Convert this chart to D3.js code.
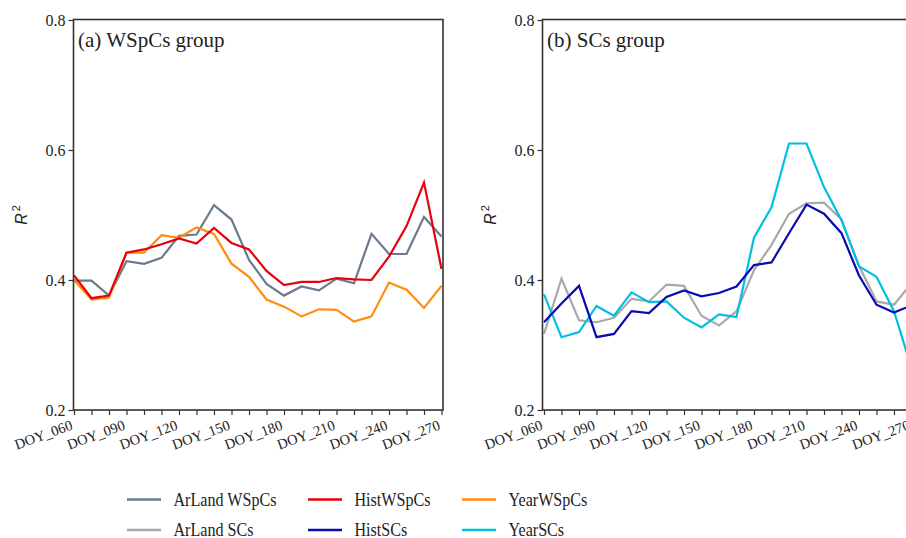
<!DOCTYPE html>
<html>
<head>
<meta charset="utf-8">
<script src="https://cdn.jsdelivr.net/npm/d3@7"></script>
<style>
  body { margin: 0; background: #fff; }
  svg { display: block; }
</style>
</head>
<body>
<script>
// R2 by DOY, two groups of predictors
const width = 906;
const height = 538;

const doys = ['DOY_060', 'DOY_070', 'DOY_080', 'DOY_090', 'DOY_100', 'DOY_110', 'DOY_120',
  'DOY_130', 'DOY_140', 'DOY_150', 'DOY_160', 'DOY_170', 'DOY_180', 'DOY_190', 'DOY_200',
  'DOY_210', 'DOY_220', 'DOY_230', 'DOY_240', 'DOY_250', 'DOY_260', 'DOY_270'];
const tickLabels = ['DOY_060', 'DOY_090', 'DOY_120', 'DOY_150', 'DOY_180', 'DOY_210', 'DOY_240', 'DOY_270'];
const yTicks = [0.2, 0.4, 0.6, 0.8];

// (a) WSpCs group
const arlandWSpCs = [0.399, 0.399, 0.376, 0.429, 0.425, 0.434, 0.468, 0.470, 0.515, 0.493, 0.431,
  0.394, 0.376, 0.390, 0.384, 0.402, 0.395, 0.471, 0.440, 0.440, 0.497, 0.467];
const histWSpCs = [0.407, 0.372, 0.376, 0.442, 0.447, 0.455, 0.464, 0.456, 0.480, 0.457, 0.447,
  0.414, 0.392, 0.397, 0.397, 0.403, 0.401, 0.400, 0.436, 0.483, 0.550, 0.417];
const yearWSpCs = [0.400, 0.370, 0.373, 0.442, 0.442, 0.469, 0.465, 0.481, 0.471, 0.425, 0.405,
  0.370, 0.359, 0.344, 0.355, 0.354, 0.336, 0.344, 0.396, 0.385, 0.357, 0.391];

// (b) SCs group
const arlandSCs = [0.317, 0.402, 0.338, 0.335, 0.342, 0.371, 0.367, 0.393, 0.391, 0.345, 0.330,
  0.352, 0.415, 0.454, 0.502, 0.518, 0.519, 0.493, 0.422, 0.367, 0.362, 0.395];
const histSCs = [0.335, 0.364, 0.391, 0.312, 0.317, 0.352, 0.349, 0.374, 0.384, 0.375, 0.380,
  0.390, 0.423, 0.427, 0.472, 0.516, 0.502, 0.472, 0.407, 0.362, 0.350, 0.361];
const yearSCs = [0.378, 0.312, 0.320, 0.360, 0.345, 0.381, 0.366, 0.367, 0.342, 0.327, 0.347,
  0.343, 0.465, 0.512, 0.610, 0.610, 0.543, 0.492, 0.421, 0.405, 0.352, 0.265];

const panels = [
  {title: '(a) WSpCs group', left: 73.5, x0: 74, x1: 441.5, right: 443,
    series: [
      {name: 'ArLand WSpCs', values: arlandWSpCs, color: '#6b7a8c'},
      {name: 'YearWSpCs', values: yearWSpCs, color: '#ff8c0a'},
      {name: 'HistWSpCs', values: histWSpCs, color: '#e8000c'}
    ]},
  {title: '(b) SCs group', left: 542.5, x0: 544, x1: 911.5, right: 913,
    series: [
      {name: 'ArLand SCs', values: arlandSCs, color: '#a9a9a9'},
      {name: 'YearSCs', values: yearSCs, color: '#00bfe3'},
      {name: 'HistSCs', values: histSCs, color: '#0a0ab0'}
    ]}
];

const plotTop = 19.5, plotBottom = 410;
const y = d3.scaleLinear().domain([0.2, 0.8]).range([plotBottom, 20]);

const svg = d3.select('body').append('svg')
  .attr('width', width).attr('height', height);

const serif = '"Liberation Serif", "Times New Roman", serif';
const axisColor = '#333';

panels.forEach(p => {
  const x = d3.scalePoint().domain(doys).range([p.x0, p.x1]);
  const g = svg.append('g');

  // lines
  const line = d3.line().x((d, i) => x(doys[i])).y(d => y(d));
  p.series.forEach(s => {
    g.append('path')
      .attr('d', line(s.values))
      .attr('fill', 'none')
      .attr('stroke', s.color)
      .attr('stroke-width', 2.2)
      .attr('stroke-linejoin', 'miter');
  });

  // frame
  g.append('rect')
    .attr('x', p.left).attr('y', plotTop)
    .attr('width', p.right - p.left).attr('height', plotBottom - plotTop)
    .attr('fill', 'none').attr('stroke', axisColor).attr('stroke-width', 1.6);

  // y axis
  const yAxis = g.append('g')
    .attr('transform', `translate(${p.left}, 0)`)
    .call(d3.axisLeft(y).tickValues(yTicks).tickFormat(d3.format('.1f')).tickSize(5).tickPadding(3));
  yAxis.select('.domain').remove();
  yAxis.selectAll('line').attr('stroke', axisColor).attr('stroke-width', 1.2);
  yAxis.selectAll('text')
    .attr('font-family', serif).attr('font-size', 16).attr('fill', '#222');

  // x axis
  const xAxis = g.append('g')
    .attr('transform', `translate(0, ${plotBottom})`)
    .call(d3.axisBottom(x).tickSize(5)
      .tickFormat(d => tickLabels.includes(d) ? d : ''));
  xAxis.select('.domain').remove();
  xAxis.selectAll('line').attr('stroke', axisColor).attr('stroke-width', 1.2);
  xAxis.selectAll('text')
    .attr('font-family', serif).attr('font-size', 14.5).attr('fill', '#222')
    .attr('text-anchor', 'end')
    .attr('dy', null)
    .attr('y', 0)
    .attr('transform', 'translate(-1, 19) rotate(-20)');

  // y label
  const yl = g.append('text')
    .attr('transform', `translate(${p.left - 47}, 215) rotate(-90)`)
    .attr('text-anchor', 'middle')
    .attr('font-family', '"Liberation Sans", Arial, sans-serif')
    .attr('font-size', 16).attr('fill', '#222');
  yl.append('tspan').attr('font-style', 'italic').text('R');
  yl.append('tspan').attr('font-size', 11).attr('dy', -7).attr('dx', 2).text('2');

  // title
  g.append('text')
    .attr('x', p.left + 4.5).attr('y', 47)
    .attr('font-family', serif).attr('font-size', 21).attr('fill', '#222')
    .text(p.title);
});

// legend
const legendItems = [
  {name: 'ArLand WSpCs', color: '#6b7a8c', col: 0, row: 0},
  {name: 'HistWSpCs', color: '#e8000c', col: 1, row: 0},
  {name: 'YearWSpCs', color: '#ff8c0a', col: 2, row: 0},
  {name: 'ArLand SCs', color: '#a9a9a9', col: 0, row: 1},
  {name: 'HistSCs', color: '#0a0ab0', col: 1, row: 1},
  {name: 'YearSCs', color: '#00bfe3', col: 2, row: 1}
];
const colX = [127, 308, 462];
const rowY = [499.5, 530];
const legend = svg.append('g');
legendItems.forEach(d => {
  const lx = colX[d.col], ly = rowY[d.row];
  legend.append('line')
    .attr('x1', lx).attr('x2', lx + 34).attr('y1', ly).attr('y2', ly)
    .attr('stroke', d.color).attr('stroke-width', 2.5);
  legend.append('text')
    .attr('transform', `translate(${lx + 46.5}, ${ly + 6.3}) scale(0.87, 1)`)
    .attr('font-family', serif).attr('font-size', 18.5).attr('fill', '#222')
    .text(d.name);
});
</script>
</body>
</html>
